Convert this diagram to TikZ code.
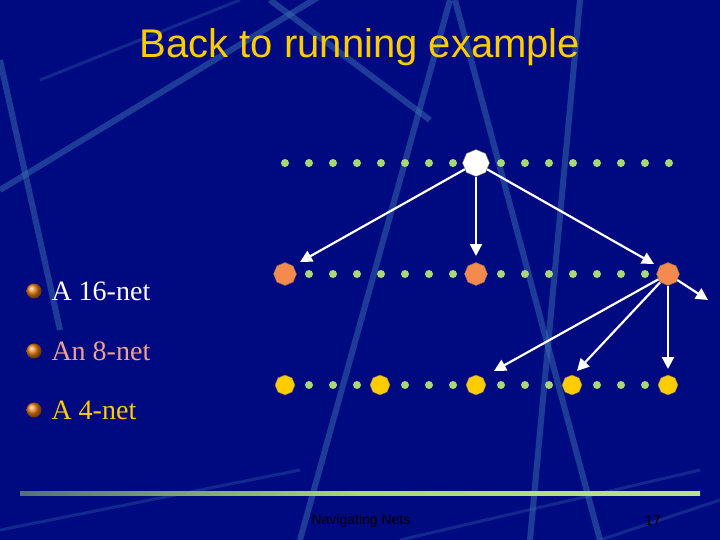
\documentclass[tikz,border=0pt]{standalone}
\usepackage{fontspec}
\setmainfont{Liberation Serif}
\setsansfont{Liberation Sans}
\usetikzlibrary{shapes.geometric,arrows.meta}
\definecolor{bg}{HTML}{000A80}
\definecolor{streak}{HTML}{3A6FB0}
\definecolor{dotg}{HTML}{A8D878}
\definecolor{orng}{HTML}{F58A4E}
\definecolor{yel}{HTML}{FFCC00}
\definecolor{salmon}{HTML}{F0A090}
\begin{document}
\begin{tikzpicture}[x=1pt,y=-1pt,
  dot/.style={circle,fill=dotg,inner sep=0pt,minimum size=8},
  oct/.style={regular polygon,regular polygon sides=8,shape border rotate=22.5,inner sep=0pt,minimum size=23,draw=black!60,line width=0.4pt},
  arr/.style={white,line width=2.2pt,-{Triangle[length=12pt,width=12pt]}},
  item/.style={anchor=west,font=\fontsize{28}{32}\selectfont},
  bul/.style={circle,inner sep=0pt,minimum size=15,ball color=orange!70!brown}]
\fill[bg] (0,0) rectangle (720,540);
\useasboundingbox (0,0) rectangle (720,540);
% decorative streaks
\begin{scope}[streak,opacity=0.5,line width=6pt]
\draw (450,0) -- (300,540);
\draw (455,0) -- (600,540);
\draw (580,0) -- (530,540);
\draw (0,190) -- (330,-10);
\draw (0,60) -- (60,330);
\draw (270,0) -- (430,120);
\end{scope}
\begin{scope}[streak,opacity=0.3,line width=3pt]
\draw (40,80) -- (240,0);
\draw (0,530) -- (300,470);
\draw (400,540) -- (700,470);
\draw (600,540) -- (720,500);
\end{scope}
\fill[left color=dotg!50!bg,right color=dotg!80!white,middle color=dotg] (20,491) rectangle (700,495);
\node[font=\sffamily\fontsize{40}{44}\selectfont,text=yel] (title) at (360,47) {Back to running example};
% bullets
\node[bul] (b1) at (34,291) {};
\node[bul] (b2) at (34,351) {};
\node[bul] (b3) at (34,410) {};
\node[item,text=white] (t1) at (48,291) {A 16-net};
\node[item,text=salmon] (t2) at (48,351) {An 8-net};
\node[item,text=yel] (t3) at (48,410) {A 4-net};
% dots
\foreach \i in {0,...,16}{
  \node[dot] (a\i) at (285+24*\i,163) {};
  \node[dot] (m\i) at (285+24*\i,274) {};
  \node[dot] (c\i) at (285+24*\i,385) {};
}
\node[oct,fill=white,minimum size=27] (W) at (476,163) {};
\node[oct,fill=orng] (O1) at (285,274) {};
\node[oct,fill=orng] (O2) at (476,274) {};
\node[oct,fill=orng] (O3) at (668,274) {};
\foreach \k/\x in {1/285,2/380,3/476,4/572,5/668}
  \node[oct,fill=yel,minimum size=20] (Y\k) at (\x,385) {};
\coordinate (E) at (708,300);
\draw[arr] (W) -- ([xshift=15pt,yshift=12pt]O1.center);
\draw[arr] (W) -- ([yshift=18pt]O2.center);
\draw[arr] (W) -- ([xshift=-14pt,yshift=10pt]O3.center);
\draw[arr] (O3) -- (E);
\draw[arr] (O3) -- ([xshift=18pt,yshift=14pt]Y3.center);
\draw[arr] (O3) -- ([xshift=5pt,yshift=14pt]Y4.center);
\draw[arr] (O3) -- ([yshift=16pt]Y5.center);
\node[font=\sffamily\fontsize{14}{16}\selectfont,text=black] (ft) at (361,521) {Navigating Nets};
\node[font=\sffamily\fontsize{14}{16}\selectfont,text=black] (pg) at (653,521) {17};
\end{tikzpicture}
\end{document}
